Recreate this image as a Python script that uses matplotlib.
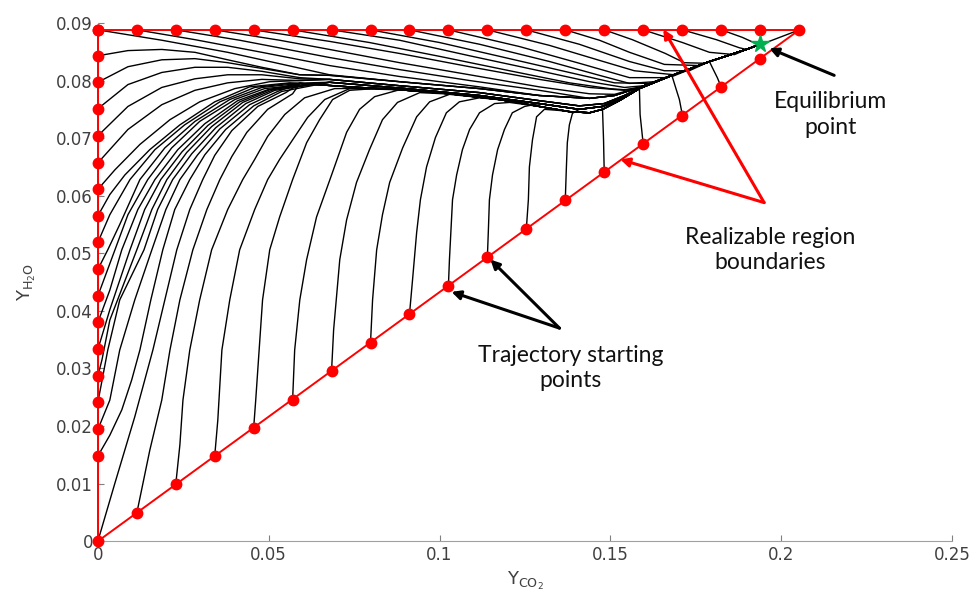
import matplotlib
matplotlib.use("Agg")
import matplotlib.pyplot as plt

# realizable-region boundary points (red dots)
LEFT_Y = [0.0888, 0.0843, 0.0797, 0.0751, 0.0704, 0.0657, 0.0611, 0.0565, 0.0519,
          0.0472, 0.0426, 0.0380, 0.0333, 0.0287, 0.0241, 0.0194, 0.0148, 0.0]
TOP_X = [0.0, 0.0114, 0.0228, 0.0342, 0.0456, 0.0570, 0.0684, 0.0798, 0.0912, 0.1026,
         0.1140, 0.1254, 0.1368, 0.1482, 0.1596, 0.1711, 0.1825, 0.1939, 0.2053]
TOP_Y = 0.0888
DIAG_X = [0.0114, 0.0228, 0.0342, 0.0456, 0.0570, 0.0684, 0.0798, 0.0912, 0.1026,
          0.1140, 0.1254, 0.1368, 0.1482, 0.1596, 0.1711, 0.1825, 0.1939]
DIAG_Y = [0.0049, 0.0099, 0.0148, 0.0197, 0.0246, 0.0296, 0.0345, 0.0394, 0.0444,
          0.0493, 0.0542, 0.0592, 0.0641, 0.0690, 0.0739, 0.0788, 0.0838]
EQUILIBRIUM = (0.1939, 0.0863)

# the bundle all trajectories collapse onto
BAND_UPPER = [(0.0678, 0.0809), (0.0883, 0.0798), (0.1117, 0.0786), (0.1292, 0.0774),
              (0.1439, 0.0769), (0.1512, 0.0774), (0.1585, 0.0788), (0.1681, 0.0809),
              (0.1790, 0.0833), (0.1898, 0.0854), (0.1939, 0.0863)]
BAND_MID = [(0.0678, 0.0802), (0.0883, 0.0791), (0.1117, 0.0779), (0.1292, 0.0765),
            (0.1409, 0.0756), (0.1482, 0.0760), (0.1541, 0.0774), (0.1599, 0.0791),
            (0.1681, 0.0809), (0.1790, 0.0833), (0.1898, 0.0854), (0.1939, 0.0863)]
BAND_LOW2 = [(0.0678, 0.0797), (0.0883, 0.0787), (0.1117, 0.0774), (0.1292, 0.0760),
             (0.1409, 0.0750), (0.1477, 0.0755), (0.1541, 0.0771), (0.1599, 0.0791),
             (0.1681, 0.0809), (0.1790, 0.0833), (0.1898, 0.0854), (0.1939, 0.0863)]
BAND_LOWER = [(0.0591, 0.0795), (0.0737, 0.0789), (0.0883, 0.0784), (0.1029, 0.0777),
              (0.1175, 0.0767), (0.1292, 0.0755), (0.1380, 0.0746), (0.1439, 0.0744),
              (0.1477, 0.0750), (0.1526, 0.0765), (0.1585, 0.0786), (0.1681, 0.0809),
              (0.1790, 0.0833), (0.1898, 0.0854), (0.1939, 0.0863)]

# trajectories started on the left boundary (Y_CO2 = 0)
LEFT_TRAJ = [
    ([(0, 0.0843), (0.0088, 0.0852), (0.0187, 0.0854), (0.0284, 0.0849), (0.0380, 0.0836), (0.0480, 0.0823), (0.0591, 0.0810)], "upper"),
    ([(0, 0.0797), (0.0088, 0.0824), (0.0187, 0.0836), (0.0284, 0.0838), (0.0380, 0.0831), (0.0480, 0.0821), (0.0591, 0.0810)], "upper"),
    ([(0, 0.0751), (0.0088, 0.0793), (0.0187, 0.0814), (0.0284, 0.0823), (0.0380, 0.0823), (0.0480, 0.0816), (0.0591, 0.0805)], "mid"),
    ([(0, 0.0704), (0.0088, 0.0755), (0.0187, 0.0788), (0.0284, 0.0803), (0.0380, 0.0810), (0.0480, 0.0810), (0.0591, 0.0803)], "mid"),
    ([(0, 0.0657), (0.0088, 0.0715), (0.0187, 0.0758), (0.0284, 0.0783), (0.0380, 0.0796), (0.0480, 0.0802), (0.0591, 0.0800)], "mid"),
    ([(0, 0.0611), (0.0050, 0.0645), (0.0123, 0.0689), (0.0211, 0.0732), (0.0298, 0.0763), (0.0401, 0.0786), (0.0503, 0.0798), (0.0591, 0.0800)], "mid"),
    ([(0, 0.0565), (0.0035, 0.0602), (0.0079, 0.0636), (0.0152, 0.0680), (0.0240, 0.0723), (0.0342, 0.0763), (0.0444, 0.0789), (0.0561, 0.0796)], "lower"),
    ([(0, 0.0519), (0.0035, 0.0567), (0.0094, 0.0628), (0.0167, 0.0680), (0.0254, 0.0723), (0.0357, 0.0763), (0.0459, 0.0788), (0.0561, 0.0795)], "low2"),
    ([(0, 0.0472), (0.0029, 0.0506), (0.0064, 0.0550), (0.0123, 0.0628), (0.0196, 0.0683), (0.0284, 0.0729), (0.0386, 0.0767), (0.0480, 0.0788)], "lower"),
    ([(0, 0.0426), (0.0050, 0.0506), (0.0088, 0.0567), (0.0146, 0.0628), (0.0216, 0.0683), (0.0298, 0.0729), (0.0401, 0.0767), (0.0488, 0.0786)], "low2"),
    ([(0, 0.0380), (0.0035, 0.0436), (0.0070, 0.0506), (0.0117, 0.0576), (0.0167, 0.0628), (0.0234, 0.0680), (0.0313, 0.0725), (0.0409, 0.0765), (0.0497, 0.0784)], "lower"),
    ([(0, 0.0333), (0.0035, 0.0402), (0.0094, 0.0506), (0.0137, 0.0576), (0.0184, 0.0628), (0.0246, 0.0676), (0.0322, 0.0722), (0.0415, 0.0763), (0.0503, 0.0784)], "low2"),
    ([(0, 0.0287), (0.0012, 0.0315), (0.0035, 0.0384), (0.0114, 0.0506), (0.0158, 0.0576), (0.0202, 0.0628), (0.0260, 0.0675), (0.0333, 0.0720), (0.0424, 0.0762), (0.0509, 0.0783)], "lower"),
    ([(0, 0.0241), (0.0029, 0.0332), (0.0064, 0.0419), (0.0135, 0.0506), (0.0175, 0.0576), (0.0219, 0.0628), (0.0275, 0.0673), (0.0345, 0.0718), (0.0433, 0.0760), (0.0518, 0.0783)], "low2"),
    ([(0, 0.0194), (0.0035, 0.0245), (0.0064, 0.0332), (0.0108, 0.0419), (0.0158, 0.0506), (0.0199, 0.0576), (0.0240, 0.0628), (0.0292, 0.0671), (0.0357, 0.0716), (0.0444, 0.0758), (0.0526, 0.0781)], "lower"),
    ([(0, 0.0148), (0.0035, 0.0184), (0.0070, 0.0228), (0.0099, 0.0280), (0.0123, 0.0332), (0.0155, 0.0419), (0.0190, 0.0506), (0.0225, 0.0576), (0.0269, 0.0628), (0.0313, 0.0671), (0.0374, 0.0715), (0.0456, 0.0756), (0.0538, 0.0781)], "low2"),
    ([(0, 0.0), (0.0050, 0.0101), (0.0108, 0.0216), (0.0161, 0.0332), (0.0196, 0.0419), (0.0231, 0.0506), (0.0269, 0.0576), (0.0307, 0.0628), (0.0342, 0.0670), (0.0392, 0.0713), (0.0468, 0.0755), (0.0550, 0.0779)], "lower"),
]

# trajectories started on the diagonal boundary
DIAG_TRAJ = [
    [(0.0114, 0.0049), (0.0152, 0.0158), (0.0187, 0.0245), (0.0211, 0.0332), (0.0240, 0.0419), (0.0278, 0.0506), (0.0319, 0.0576), (0.0357, 0.0628), (0.0392, 0.0668), (0.0436, 0.0710), (0.0497, 0.0750), (0.0570, 0.0777)],
    [(0.0228, 0.0099), (0.0240, 0.0167), (0.0249, 0.0245), (0.0269, 0.0332), (0.0298, 0.0419), (0.0333, 0.0506), (0.0380, 0.0576), (0.0424, 0.0628), (0.0459, 0.0663), (0.0497, 0.0703), (0.0547, 0.0741), (0.0605, 0.0770), (0.0693, 0.0786)],
    [(0.0342, 0.0148), (0.0351, 0.0210), (0.0363, 0.0332), (0.0386, 0.0419), (0.0415, 0.0506), (0.0459, 0.0576), (0.0497, 0.0628), (0.0532, 0.0663), (0.0570, 0.0697), (0.0614, 0.0736), (0.0664, 0.0767), (0.0737, 0.0786)],
    [(0.0456, 0.0197), (0.0462, 0.0245), (0.0482, 0.0419), (0.0503, 0.0506), (0.0532, 0.0563), (0.0570, 0.0628), (0.0611, 0.0692), (0.0649, 0.0732), (0.0687, 0.0767), (0.0737, 0.0783), (0.0810, 0.0786)],
    [(0.0570, 0.0246), (0.0576, 0.0332), (0.0591, 0.0419), (0.0611, 0.0489), (0.0640, 0.0563), (0.0684, 0.0636), (0.0728, 0.0710), (0.0766, 0.0750), (0.0810, 0.0772), (0.0883, 0.0784)],
    [(0.0684, 0.0296), (0.0690, 0.0367), (0.0708, 0.0489), (0.0728, 0.0558), (0.0757, 0.0623), (0.0795, 0.0680), (0.0833, 0.0732), (0.0877, 0.0762), (0.0942, 0.0779)],
    [(0.0798, 0.0345), (0.0804, 0.0419), (0.0816, 0.0506), (0.0833, 0.0567), (0.0854, 0.0623), (0.0892, 0.0683), (0.0933, 0.0737), (0.0971, 0.0763), (0.1029, 0.0776)],
    [(0.0912, 0.0394), (0.0921, 0.0454), (0.0933, 0.0536), (0.0944, 0.0593), (0.0962, 0.0650), (0.0988, 0.0701), (0.1020, 0.0744), (0.1058, 0.0763), (0.1117, 0.0770)],
    [(0.1026, 0.0444), (0.1029, 0.0489), (0.1038, 0.0593), (0.1050, 0.0636), (0.1067, 0.0680), (0.1088, 0.0715), (0.1117, 0.0744), (0.1161, 0.0760), (0.1205, 0.0762)],
    [(0.1140, 0.0493), (0.1143, 0.0541), (0.1146, 0.0593), (0.1155, 0.0636), (0.1170, 0.0680), (0.1190, 0.0715), (0.1213, 0.0744), (0.1249, 0.0755)],
    [(0.1254, 0.0542), (0.1260, 0.0593), (0.1263, 0.0650), (0.1272, 0.0697), (0.1284, 0.0737), (0.1307, 0.0750), (0.1351, 0.0748)],
    [(0.1368, 0.0592), (0.1371, 0.0645), (0.1374, 0.0692), (0.1380, 0.0723), (0.1389, 0.0743)],
    [(0.1482, 0.0641), (0.1480, 0.0697), (0.1477, 0.0750)],
    [(0.1596, 0.0690), (0.1587, 0.0741), (0.1585, 0.0786)],
    [(0.1711, 0.0739), (0.1702, 0.0767), (0.1693, 0.0784), (0.1681, 0.0807)],
    [(0.1825, 0.0788), (0.1813, 0.0805), (0.1798, 0.0823), (0.1790, 0.0833)],
    [(0.1939, 0.0838)],
]

# trajectories started on the top boundary (Y_H2O at its maximum)
TOP_TRAJ = [
    ([(0.0, 0.0888), (0.0187, 0.0870), (0.0380, 0.0849), (0.0526, 0.0830), (0.0678, 0.0810)], "upper"),
    ([(0.0114, 0.0888), (0.0284, 0.0871), (0.0480, 0.0849), (0.0678, 0.0826), (0.0883, 0.0807), (0.1117, 0.0789)], "upper"),
    ([(0.0228, 0.0888), (0.0415, 0.0870), (0.0678, 0.0840), (0.0883, 0.0819), (0.1088, 0.0800), (0.1292, 0.0783)], "upper"),
    ([(0.0342, 0.0888), (0.0532, 0.0870), (0.0678, 0.0854), (0.0883, 0.0831), (0.1088, 0.0810), (0.1292, 0.0789), (0.1439, 0.0777), (0.1512, 0.0776)], "upper"),
    ([(0.0456, 0.0888), (0.0678, 0.0868), (0.0883, 0.0847), (0.1088, 0.0824), (0.1292, 0.0802), (0.1439, 0.0788), (0.1541, 0.0783)], "upper"),
    ([(0.0570, 0.0888), (0.0795, 0.0866), (0.1000, 0.0842), (0.1205, 0.0817), (0.1380, 0.0796), (0.1497, 0.0786), (0.1541, 0.0784)], "upper"),
    ([(0.0684, 0.0888), (0.0883, 0.0870), (0.1088, 0.0843), (0.1292, 0.0817), (0.1439, 0.0798), (0.1541, 0.0788), (0.1599, 0.0791)], "upper"),
    ([(0.0798, 0.0888), (0.1000, 0.0866), (0.1205, 0.0838), (0.1380, 0.0814), (0.1512, 0.0796), (0.1614, 0.0795)], "upper"),
    ([(0.0912, 0.0888), (0.1117, 0.0863), (0.1322, 0.0833), (0.1468, 0.0809), (0.1556, 0.0795), (0.1629, 0.0798)], "upper"),
    ([(0.1026, 0.0888), (0.1234, 0.0859), (0.1409, 0.0830), (0.1556, 0.0805), (0.1658, 0.0805)], "upper"),
    ([(0.1140, 0.0888), (0.1322, 0.0861), (0.1468, 0.0835), (0.1570, 0.0817), (0.1687, 0.0810)], "upper"),
    ([(0.1254, 0.0888), (0.1409, 0.0863), (0.1556, 0.0833), (0.1658, 0.0817), (0.1731, 0.0817)], "upper"),
    ([(0.1368, 0.0888), (0.1468, 0.0870), (0.1556, 0.0849), (0.1658, 0.0828), (0.1760, 0.0826)], "upper"),
    ([(0.1482, 0.0888), (0.1564, 0.0871), (0.1661, 0.0847), (0.1716, 0.0831), (0.1775, 0.0830)], "upper"),
    ([(0.1596, 0.0888), (0.1711, 0.0866), (0.1790, 0.0849), (0.1863, 0.0845)], "upper"),
    ([(0.1711, 0.0888), (0.1810, 0.0871), (0.1877, 0.0857), (0.1898, 0.0854)], "upper"),
    ([(0.1825, 0.0888), (0.1886, 0.0875), (0.1927, 0.0864)], "upper"),
    ([(0.1939, 0.0888)], "upper"),
    ([(0.2053, 0.0888), (0.1956, 0.0866)], "upper"),
]

X_TICKS = [0, 0.05, 0.1, 0.15, 0.2, 0.25]
X_TICKLABELS = ["0", "0.05", "0.1", "0.15", "0.2", "0.25"]
Y_TICKS = [0, 0.01, 0.02, 0.03, 0.04, 0.05, 0.06, 0.07, 0.08, 0.09]
Y_TICKLABELS = ["0", "0.01", "0.02", "0.03", "0.04", "0.05", "0.06", "0.07", "0.08", "0.09"]

BANDS = {"upper": BAND_UPPER, "mid": BAND_MID, "low2": BAND_LOW2, "lower": BAND_LOWER}


def full_path(head, band):
    # a trajectory runs along its own head, then follows the bundle to equilibrium
    last_x = head[-1][0]
    return head + [p for p in band if p[0] > last_x]


fig = plt.figure(figsize=(9.69, 6.04), dpi=100)
ax = fig.add_axes([0.101, 0.104, 0.8815, 0.858])

line_kw = dict(color="black", lw=1.0, zorder=2, solid_joinstyle="round")
for head, band in LEFT_TRAJ + TOP_TRAJ:
    pts = full_path(head, BANDS[band])
    ax.plot([p[0] for p in pts], [p[1] for p in pts], **line_kw)
for i, head in enumerate(DIAG_TRAJ):
    band = BAND_LOW2 if i % 2 else BAND_LOWER
    pts = full_path(head, band)
    ax.plot([p[0] for p in pts], [p[1] for p in pts], **line_kw)

red = "#ff0000"
ax.plot([0, 0], [0, TOP_Y], color=red, lw=1.4, zorder=3, clip_on=False)
ax.plot([TOP_X[0], TOP_X[-1]], [TOP_Y, TOP_Y], color=red, lw=1.4, zorder=3, clip_on=False)
ax.plot([0, TOP_X[-1]], [0, TOP_Y], color=red, lw=1.4, zorder=3, clip_on=False)
ax.plot([0] * len(LEFT_Y), LEFT_Y, "o", color=red, ms=7.5, zorder=4, clip_on=False)
ax.plot(TOP_X, [TOP_Y] * len(TOP_X), "o", color=red, ms=7.5, zorder=4, clip_on=False)
ax.plot(DIAG_X, DIAG_Y, "o", color=red, ms=7.5, zorder=4, clip_on=False)
ax.plot([EQUILIBRIUM[0]], [EQUILIBRIUM[1]], marker="*", color="#00b050", ms=13, zorder=5)

ax.set_xlim(0, 0.25)
ax.set_ylim(0, 0.09)
ax.set_xticks(X_TICKS)
ax.set_xticklabels(X_TICKLABELS)
ax.set_yticks(Y_TICKS)
ax.set_yticklabels(Y_TICKLABELS)
for s in ["top", "right"]:
    ax.spines[s].set_visible(False)
for s in ["left", "bottom"]:
    ax.spines[s].set_color("#a0a0a0")
ax.tick_params(direction="in", length=4, color="#808080", labelcolor="#404040", labelsize=12)
ax.set_xlabel(r"$\mathregular{Y_{CO_2}}$", fontsize=13, color="#404040", labelpad=4)
ax.set_ylabel(r"$\mathregular{Y_{H_2O}}$", fontsize=13, color="#404040", labelpad=13)

txt = dict(fontsize=16.5, family="Lato", ha="center", va="center", color="#111111",
           linespacing=1.25)
ax.text(0.2143, 0.0741, "Equilibrium\npoint", **txt)
ax.text(0.1968, 0.0506, "Realizable region\nboundaries", **txt)
ax.text(0.1383, 0.0301, "Trajectory starting\npoints", **txt)

black_arrow = dict(arrowstyle="-|>", color="black", lw=2.2, mutation_scale=13, shrinkA=0, shrinkB=0)
red_arrow = dict(arrowstyle="-|>", color=red, lw=2.2, mutation_scale=13, shrinkA=0, shrinkB=0)
ax.annotate("", xy=(0.1965, 0.0856), xytext=(0.2155, 0.0809), arrowprops=black_arrow, zorder=6)
ax.annotate("", xy=(0.1655, 0.0889), xytext=(0.1950, 0.0588), arrowprops=red_arrow, zorder=6)
ax.annotate("", xy=(0.1529, 0.0663), xytext=(0.1950, 0.0588), arrowprops=red_arrow, zorder=6)
ax.annotate("", xy=(0.1035, 0.0433), xytext=(0.1351, 0.0370), arrowprops=black_arrow, zorder=6)
ax.annotate("", xy=(0.1149, 0.0489), xytext=(0.1351, 0.0370), arrowprops=black_arrow, zorder=6)

fig.savefig("out.png", dpi=100)
